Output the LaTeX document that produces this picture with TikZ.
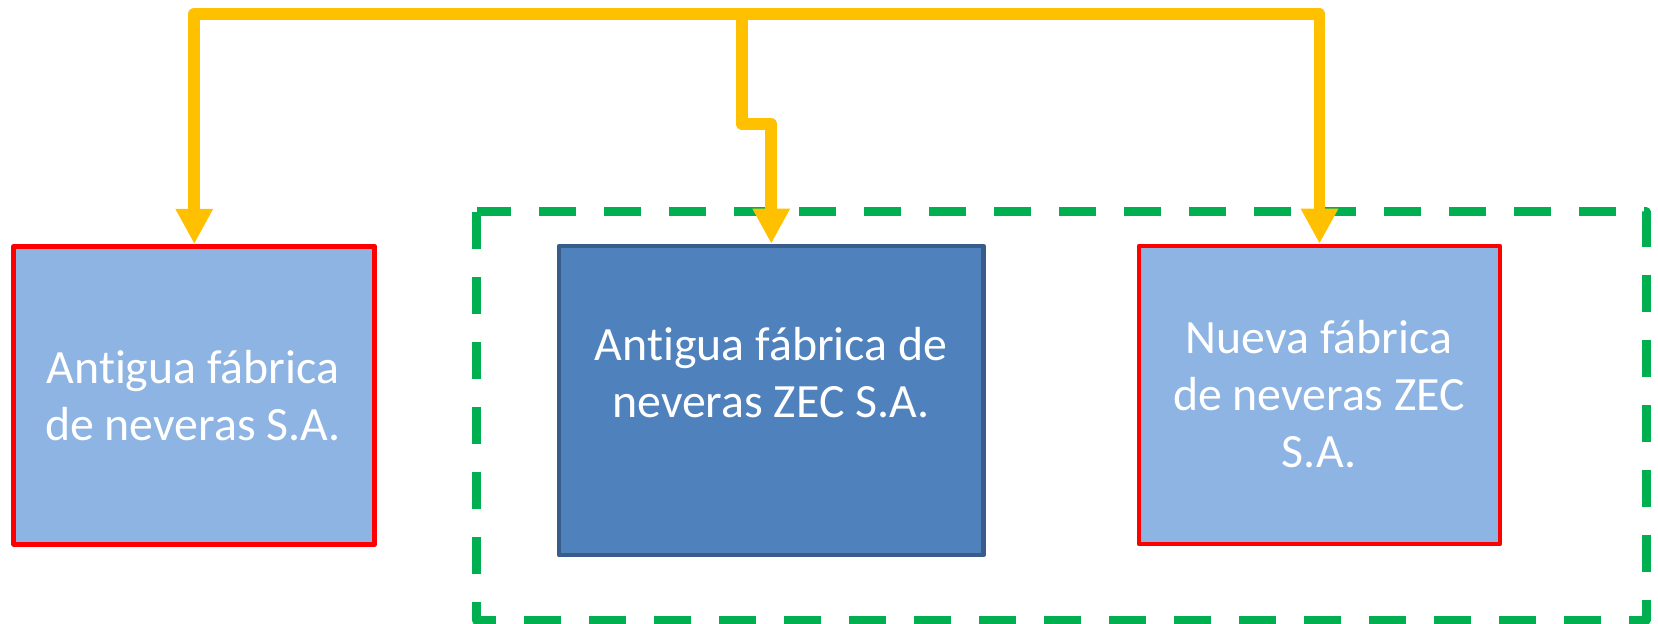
\documentclass[tikz,border=0pt]{standalone}
\usepackage{fontspec}
\setmainfont{Carlito}[Ligatures=NoCommon]
\usetikzlibrary{arrows.meta}
\definecolor{boxlight}{HTML}{8EB4E3}
\definecolor{boxdark}{HTML}{4F81BD}
\definecolor{boxdarkline}{HTML}{385D8A}
\definecolor{zecgreen}{HTML}{00B050}
\definecolor{linkyellow}{HTML}{FFC000}
\begin{document}
\begin{tikzpicture}[line join=round,
  factory/.style={draw=red, fill=boxlight, line width=1.3pt, minimum width=3.61cm, minimum height=2.98cm, inner sep=0pt},
  zecbox/.style={draw=boxdarkline, fill=boxdark, line width=1.3pt, minimum width=4.245cm, minimum height=3.09cm, inner sep=0pt},
  caption/.style={text=white, align=center, inner sep=0pt, font=\fontsize{13.6}{16.2}\selectfont},
  link/.style={draw=linkyellow, line width=3.3pt, -{Triangle[length=10pt,width=10pt]}}]
\useasboundingbox (0,0) rectangle (16.58,-6.24);
% zona ZEC
\draw[zecgreen, line width=2.56pt, dash pattern=on 10.5pt off 8pt] (4.765,-2.12) -- (4.765,-6.2) -- (16.46,-6.2) -- (16.46,-2.12) -- cycle;
% fabricas
\node[factory] (antigua) at (1.9425,-3.9525) {};
\node[zecbox] (zecvieja) at (7.7125,-4.005) {};
\node[factory] (nueva) at (13.195,-3.95) {};
\node[caption, anchor=base] (antiguaTxt) at (1.93,-4.40) {Antigua fábrica\\de neveras S.A.};
\node[caption, anchor=base] (zecviejaTxt) at (7.71,-4.17) {Antigua fábrica de\\neveras ZEC S.A.};
\node[caption, anchor=base] (nuevaTxt) at (13.19,-4.67) {Nueva fábrica\\de neveras ZEC\\S.A.};
% enlaces
\coordinate (hub) at (7.42,-0.14);
\coordinate (bend) at (7.42,-1.24);
\draw[link] (hub) -| (antigua.north);
\draw[link] (hub) -| (nueva.north);
\draw[link] (hub) -- (bend) -| (zecvieja.north);
\end{tikzpicture}
\end{document}
